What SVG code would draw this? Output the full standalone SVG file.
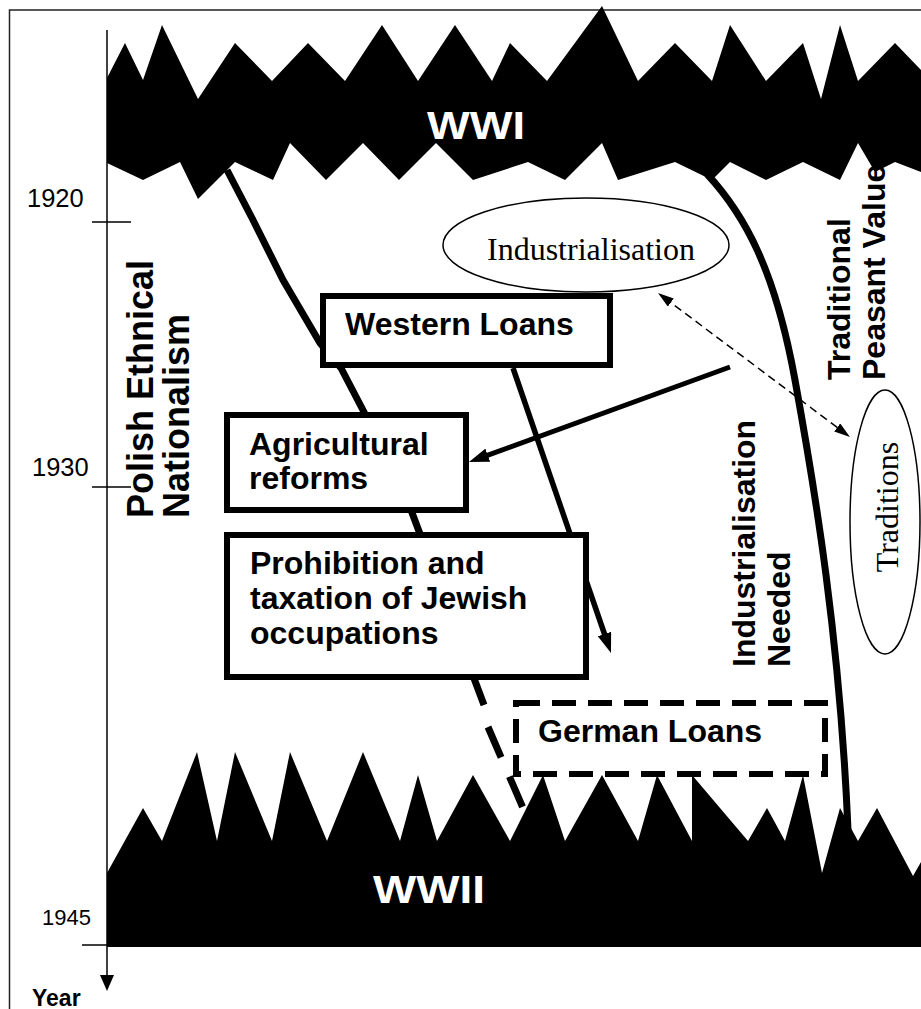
<svg xmlns="http://www.w3.org/2000/svg" width="921" height="1009" viewBox="0 0 921 1009">
<style>
.lbl{font-family:'Liberation Sans',Arial,sans-serif;font-weight:bold;font-size:32px;fill:#000;}
.big{font-family:'Liberation Sans',Arial,sans-serif;font-weight:bold;font-size:36px;fill:#000;}
.yr{font-family:'Liberation Sans',Arial,sans-serif;fill:#000;}
.serif{font-family:'Liberation Serif','Times New Roman',serif;font-size:32px;fill:#000;}
.war{font-family:'Liberation Sans',Arial,sans-serif;font-weight:bold;fill:#fff;}
.box{fill:#fff;stroke:#000;stroke-width:6;}
.thick{fill:none;stroke:#000;stroke-width:7;stroke-linejoin:round;}
.thin{stroke:#000;stroke-width:1.5;fill:none;}
.band{fill:#000;stroke:none;}
</style>
<defs>
<marker id="ah" viewBox="0 0 20 14" refX="10" refY="7" markerWidth="20" markerHeight="14" markerUnits="userSpaceOnUse" orient="auto"><path d="M0,0 L20,7 L0,14 Z" fill="#000"/></marker>
<marker id="ahs" viewBox="0 0 16 10" refX="8" refY="5" markerWidth="16" markerHeight="10" markerUnits="userSpaceOnUse" orient="auto-start-reverse"><path d="M0,0 L16,5 L0,10 Z" fill="#000"/></marker>
</defs>
<rect x="0" y="0" width="921" height="1009" fill="#fff"/>

<g id="frame">
<path d="M9.5,1009 L9.5,10 L921,10" fill="none" stroke="#222" stroke-width="1.5"/>
</g>

<g id="axis">
<line x1="107" y1="30" x2="107" y2="978" stroke="#000" stroke-width="1.5"/>
<path d="M100,975 L114,975 L107,991 Z" fill="#000"/>
<line x1="92" y1="222" x2="131" y2="222" class="thin"/>
<line x1="92" y1="487" x2="131" y2="487" class="thin"/>
<line x1="82" y1="945" x2="107" y2="945" class="thin"/>
<text class="yr" x="27" y="207" font-size="25.5">1920</text>
<text class="yr" x="32" y="476" font-size="25.5">1930</text>
<text class="yr" x="42" y="925" font-size="22">1945</text>
<text class="yr" x="32" y="1006" font-size="23" font-weight="bold">Year</text>
</g>

<g id="side-labels">
<text class="big" transform="translate(153,518) rotate(-90)">Polish Ethnical</text>
<text class="big" transform="translate(189,518) rotate(-90)">Nationalism</text>
<text class="lbl" transform="translate(755,667) rotate(-90)">Industrialisation</text>
<text class="lbl" transform="translate(790,667) rotate(-90)">Needed</text>
<text class="lbl" transform="translate(850,380) rotate(-90)">Traditional</text>
<text class="lbl" transform="translate(885,380) rotate(-90)">Peasant Values</text>
</g>

<g id="wwi">
<path class="band" d="M107,78 L125,43 L143,80 L162,25 L198,99 L235,43 L272,81 L308,43 L345,81 L382,25 L418,81 L455,25 L492,81 L510,43 L547,81 L602,6 L638,81 L675,43 L712,81 L730,25 L766,81 L803,43 L821,99 L840,25 L858,81 L895,43 L921,70 L921,172 L895,162 L875,172 L858,143 L840,180 L803,162 L766,180 L730,162 L712,180 L675,162 L618,180 L602,143 L565,180 L528,162 L473,180 L436,143 L399,180 L363,143 L326,180 L290,143 L273,180 L235,162 L198,199 L180,162 L143,180 L107,163 Z"/>
<text class="war" x="427" y="139" font-size="38" textLength="98" lengthAdjust="spacingAndGlyphs">WWI</text>
</g>

<g id="wwii">
<path class="band" d="M107,947 L107,873 L143,808 L162,841 L197,752 L217,841 L235,752 L272,841 L290,752 L327,841 L363,752 L400,841 L418,775 L437,841 L473,775 L510,841 L543,775 L565,841 L602,775 L638,841 L657,775 L692,841 L692,775 L748,841 L767,808 L785,841 L803,775 L822,873 L840,808 L858,841 L877,808 L913,876 L921,862 L921,947 Z"/>
<text class="war" x="373" y="903" font-size="39" textLength="112" lengthAdjust="spacingAndGlyphs">WWII</text>
</g>

<g id="connectors">
<path class="thick" d="M227,170 L253,220 L283,280 L320,343 L341,368 L365,414"/>
<path class="thick" d="M411,510 L484,705"/>
<path class="thick" d="M488,727 L523,808" stroke-dasharray="33 21"/>
<path d="M513,368 L607.75,643.5" fill="none" stroke="#000" stroke-width="5.5" marker-end="url(#ah)"/>
<path d="M730,367 L478.4,458.6" fill="none" stroke="#000" stroke-width="5" marker-end="url(#ah)"/>
<path d="M664.4,297.8 L843.6,432.2" fill="none" stroke="#000" stroke-width="1.5" stroke-dasharray="8 5" marker-start="url(#ahs)" marker-end="url(#ahs)"/>
<path class="thick" d="M707,174 C745,215 775,270 795,380 C815,490 840,640 848,830"/>
</g>

<g id="industrialisation">
<ellipse cx="586" cy="245" rx="143" ry="47" fill="#fff" stroke="#000" stroke-width="1.5"/>
<text class="serif" x="487" y="260">Industrialisation</text>
</g>

<g id="traditions">
<ellipse cx="885" cy="522" rx="35" ry="132" fill="#fff" stroke="#000" stroke-width="1.5"/>
<text class="serif" text-anchor="middle" transform="translate(898,507) rotate(-90)">Traditions</text>
</g>

<g id="western-loans">
<rect class="box" x="323" y="296" width="287" height="69"/>
<text class="lbl" x="345" y="335">Western Loans</text>
</g>

<g id="agricultural-reforms">
<rect class="box" x="227" y="415" width="239" height="95"/>
<text class="lbl" x="249" y="455">Agricultural</text>
<text class="lbl" x="249" y="489">reforms</text>
</g>

<g id="prohibition">
<rect class="box" x="227" y="535" width="359" height="142"/>
<text class="lbl" x="250" y="574">Prohibition and</text>
<text class="lbl" x="250" y="609">taxation of Jewish</text>
<text class="lbl" x="250" y="644">occupations</text>
</g>

<g id="german-loans">
<rect class="box" x="516" y="703" width="309" height="71" stroke-dasharray="24 12"/>
<text class="lbl" x="538" y="742">German Loans</text>
</g>
</svg>
